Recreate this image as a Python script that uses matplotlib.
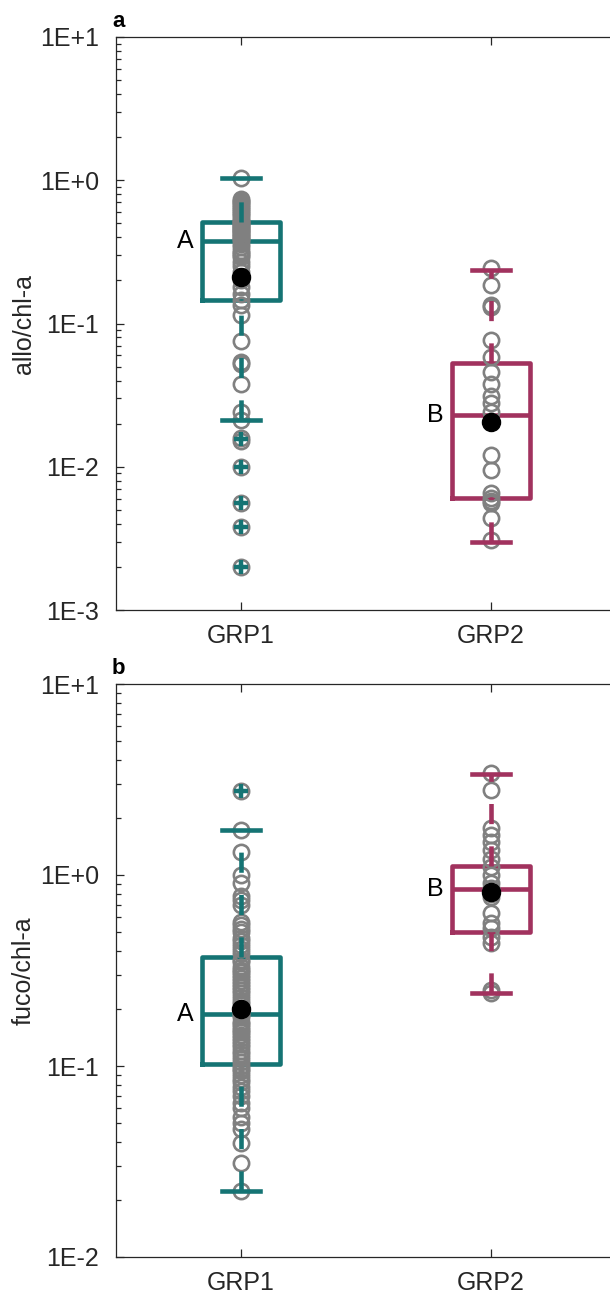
import numpy as np
import matplotlib
matplotlib.use("Agg")
import matplotlib.pyplot as plt
from matplotlib.ticker import LogLocator, FuncFormatter, NullFormatter

plt.rcParams['font.family'] = ['Liberation Sans', 'DejaVu Sans']

groups = ['GRP1', 'GRP2']
letters = ['A', 'B']

# panel a : allo/chl-a
allo_grp1 = [1.04, 0.74, 0.72, 0.70, 0.68, 0.66, 0.64, 0.62, 0.60, 0.58, 0.56, 0.54, 0.52,
             0.51, 0.50, 0.49, 0.48, 0.47, 0.46, 0.45, 0.44, 0.43, 0.42, 0.41, 0.40, 0.39,
             0.38, 0.36, 0.34, 0.32, 0.31, 0.30, 0.29, 0.27, 0.25, 0.23, 0.21, 0.20, 0.18,
             0.16, 0.145, 0.134, 0.114, 0.076, 0.054, 0.052, 0.038, 0.024, 0.0213,
             0.0158, 0.0152, 0.0100, 0.0056, 0.0038, 0.0020]
allo_grp2 = [0.243, 0.186, 0.134, 0.130, 0.077, 0.058, 0.046, 0.038, 0.031, 0.028,
             0.024, 0.021, 0.0121, 0.0095, 0.0066, 0.0061, 0.0058, 0.0056, 0.0044, 0.0031]
allo_q1 = [0.146, 0.0061]
allo_med = [0.377, 0.0229]
allo_q3 = [0.514, 0.0527]
allo_lo = [0.0213, 0.0030]
allo_hi = [1.04, 0.236]
allo_mean = [0.211, 0.0206]
allo_out = [[0.0155, 0.0100, 0.0056, 0.0038, 0.0020], []]

# panel b : fuco/chl-a
fuco_grp1 = [2.76, 1.72, 1.32, 1.0, 0.905, 0.78, 0.74, 0.70, 0.57, 0.55, 0.52, 0.50,
             0.47, 0.45, 0.43, 0.41, 0.39, 0.36, 0.35, 0.33, 0.32, 0.31, 0.30, 0.29,
             0.28, 0.27, 0.26, 0.25, 0.24, 0.23, 0.22, 0.21, 0.20, 0.19, 0.185, 0.18,
             0.17, 0.165, 0.16, 0.155, 0.15, 0.145, 0.14, 0.135, 0.13, 0.125, 0.12,
             0.115, 0.11, 0.105, 0.100, 0.097, 0.094, 0.090, 0.086, 0.082, 0.078,
             0.074, 0.070, 0.064, 0.060, 0.054, 0.050, 0.047, 0.0394, 0.0309, 0.0222]
fuco_grp2 = [3.40, 2.79, 1.755, 1.62, 1.49, 1.35, 1.22, 1.10, 1.0, 0.91, 0.85, 0.80,
             0.77, 0.63, 0.56, 0.53, 0.475, 0.44, 0.25, 0.24]
fuco_q1 = [0.103, 0.505]
fuco_med = [0.187, 0.845]
fuco_q3 = [0.373, 1.115]
fuco_lo = [0.0222, 0.240]
fuco_hi = [1.72, 3.38]
fuco_mean = [0.198, 0.818]
fuco_out = [[2.76], []]

colors = ['#157474', '#A1325E']
gray = '#808080'
txt = '#262626'
FS = 18
LW = 3.3


def log_label(v, pos):
    return '1E%+d' % int(round(np.log10(v)))


def draw_panel(ax, data, q1, med, q3, lo, hi, mean, out, ylim, ylabel, tag):
    pos = [1, 2]
    for i in range(2):
        # data points
        ax.plot(np.full(len(data[i]), pos[i]), data[i], 'o', ms=11, mfc='none',
                mec=gray, mew=1.9, zorder=3)
        st = [dict(med=med[i], q1=q1[i], q3=q3[i], whislo=lo[i], whishi=hi[i],
                   fliers=out[i])]
        art = ax.bxp(st, positions=[pos[i]], widths=0.314, capwidths=0.152,
                     showfliers=True, patch_artist=False,
                     boxprops=dict(color=colors[i], lw=LW),
                     medianprops=dict(color=colors[i], lw=LW),
                     whiskerprops=dict(color=colors[i], lw=LW,
                                       linestyle=(0, (14.5 / LW, 16 / LW)),
                                       solid_capstyle='butt'),
                     capprops=dict(color=colors[i], lw=LW),
                     flierprops=dict(marker='+', ms=9.5, mew=3.2, mec=colors[i]))
        # MATLAB draws whiskers from the low end upwards
        w = art['whiskers'][0]
        xd, yd = w.get_data()
        w.set_data(xd[::-1], yd[::-1])
        for b in art['boxes'] + art['medians']:
            b.set_zorder(2)
        for k in ['whiskers', 'caps', 'fliers']:
            for a in art[k]:
                a.set_zorder(4)
        ax.plot(pos[i], mean[i], 'o', ms=13, color='black', zorder=5)
        ax.text(pos[i] - 0.19, med[i], letters[i], ha='right', va='center',
                fontsize=FS, color='black')

    ax.set_yscale('log')
    ax.set_ylim(ylim)
    ax.set_xlim(0.5, 2.5)
    ax.set_xticks(pos)
    ax.set_xticklabels(groups)
    ax.yaxis.set_major_locator(LogLocator(base=10, numticks=10))
    ax.yaxis.set_minor_locator(LogLocator(base=10, subs=np.arange(2, 10), numticks=50))
    ax.yaxis.set_major_formatter(FuncFormatter(log_label))
    ax.yaxis.set_minor_formatter(NullFormatter())
    ax.tick_params(which='both', direction='in', top=True, right=False, color=txt,
                   labelcolor=txt, labelsize=FS, width=0.9)
    ax.tick_params(which='major', length=6)
    ax.tick_params(which='minor', length=3.5)
    ax.tick_params(axis='y', pad=12)
    ax.tick_params(axis='x', pad=10)
    for s in ax.spines.values():
        s.set_color(txt)
        s.set_linewidth(0.9)
    ax.set_ylabel(ylabel, fontsize=FS, color=txt)
    ax.yaxis.set_label_coords(-0.16, 0.5)
    ax.text(-0.008, 1.018, tag, transform=ax.transAxes, ha='left', va='baseline',
            fontsize=16, fontweight='bold', color='black')


fig = plt.figure(figsize=(6.1, 12.93), dpi=100)
ax1 = fig.add_axes([116 / 610, 683 / 1293, 500 / 610, 573 / 1293])
ax2 = fig.add_axes([116 / 610, 36 / 1293, 500 / 610, 573 / 1293])

draw_panel(ax1, [allo_grp1, allo_grp2], allo_q1, allo_med, allo_q3, allo_lo, allo_hi,
           allo_mean, allo_out, (1e-3, 1e1), 'allo/chl-a', 'a')
draw_panel(ax2, [fuco_grp1, fuco_grp2], fuco_q1, fuco_med, fuco_q3, fuco_lo, fuco_hi,
           fuco_mean, fuco_out, (1e-2, 1e1), 'fuco/chl-a', 'b')

fig.savefig('out.png', dpi=100)
